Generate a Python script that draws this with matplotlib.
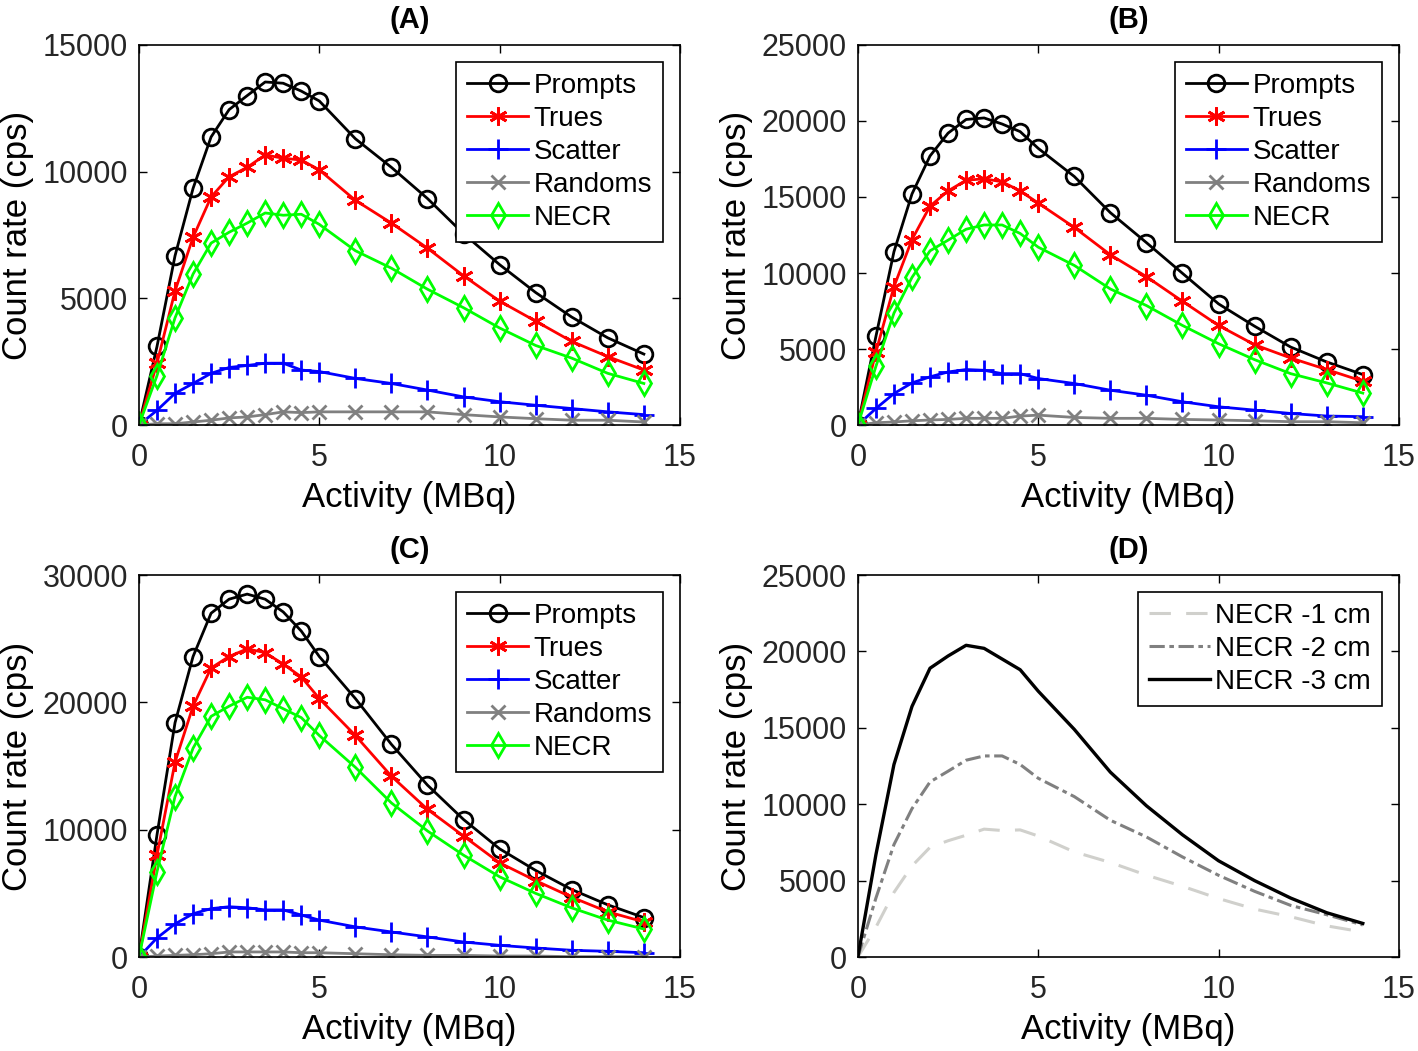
import numpy as np
import matplotlib
matplotlib.use("Agg")
import matplotlib.pyplot as plt

plt.rcParams['font.family'] = ['Liberation Sans', 'DejaVu Sans']

activity = [0, 0.5, 1, 1.5, 2, 2.5, 3, 3.5, 4, 4.5, 5, 6, 7, 8, 9, 10, 11, 12, 13, 14]

# panel A
prompts_a = [0, 3100, 6680, 9340, 11370, 12450, 13000, 13540, 13490, 13180, 12790, 11300, 10170, 8940, 7550, 6330, 5230, 4260, 3440, 2800]
trues_a = [0, 2440, 5290, 7410, 9000, 9800, 10170, 10660, 10530, 10460, 10070, 8870, 7970, 6980, 5890, 4890, 4100, 3300, 2700, 2170]
scatter_a = [0, 580, 1250, 1640, 2040, 2270, 2350, 2440, 2440, 2170, 2110, 1840, 1640, 1380, 1110, 920, 780, 650, 520, 410]
randoms_a = [0, 50, 50, 120, 190, 280, 320, 410, 520, 490, 520, 520, 520, 520, 410, 320, 250, 190, 190, 120]
necr_a = [0, 1950, 4230, 5960, 7180, 7610, 7970, 8370, 8280, 8320, 7920, 6880, 6190, 5360, 4630, 3830, 3140, 2640, 2040, 1640]

# panel B
prompts_b = [0, 5830, 11400, 15200, 17700, 19200, 20100, 20200, 19800, 19300, 18200, 16350, 13970, 12000, 9980, 7970, 6500, 5130, 4150, 3320]
trues_b = [0, 4800, 9100, 12200, 14400, 15400, 16100, 16200, 16000, 15400, 14600, 13000, 11200, 9760, 8140, 6550, 5280, 4410, 3650, 2880]
scatter_b = [0, 1090, 2070, 2770, 3170, 3490, 3650, 3600, 3380, 3380, 3060, 2730, 2290, 1960, 1530, 1200, 980, 760, 590, 550]
randoms_b = [0, 150, 200, 280, 330, 370, 440, 440, 440, 590, 650, 500, 440, 440, 370, 330, 280, 220, 220, 150]
necr_b = [0, 3860, 7360, 9710, 11460, 12160, 12880, 13160, 13160, 12600, 11700, 10500, 8950, 7860, 6550, 5350, 4300, 3380, 2770, 2100]

# panel C
prompts_c = [0, 9600, 18400, 23600, 27000, 28100, 28500, 28100, 27100, 25600, 23600, 20300, 16700, 13500, 10800, 8500, 6800, 5300, 4100, 3100]
trues_c = [0, 8000, 15300, 19700, 22700, 23600, 24200, 23900, 23000, 22000, 20300, 17400, 14200, 11600, 9500, 7400, 6000, 4700, 3550, 2760]
scatter_c = [0, 1500, 2600, 3400, 3800, 3950, 3870, 3700, 3700, 3300, 2900, 2370, 1970, 1580, 1180, 920, 710, 530, 450, 340]
randoms_c = [0, 80, 130, 180, 260, 400, 400, 400, 400, 340, 340, 260, 180, 130, 130, 80, 80, 30, 30, 30]
necr_c = [0, 6700, 12600, 16400, 18900, 19700, 20400, 20200, 19500, 18800, 17400, 14900, 12100, 9900, 8000, 6300, 5000, 3860, 2900, 2200]

series_names = ['Prompts', 'Trues', 'Scatter', 'Randoms', 'NECR']
panel_titles = ['(A)', '(B)', '(C)', '(D)']
d_labels = ['NECR -1 cm', 'NECR -2 cm', 'NECR -3 cm']

styles = [
    dict(color='black', marker='o', ms=12, mfc='none', mew=2),
    dict(color='red', marker=(6, 2, 0), ms=13, mfc='none', mew=2),
    dict(color='blue', marker='+', ms=14, mfc='none', mew=2),
    dict(color='#808080', marker='x', ms=10, mfc='none', mew=2),
    dict(color='#00ff00', marker='d', ms=12, mfc='none', mew=2),
]

fig = plt.figure(figsize=(14.18, 10.51), dpi=100)
positions = [
    [0.098, 0.5956, 0.3815, 0.3616],
    [0.605, 0.5956, 0.3815, 0.3616],
    [0.098, 0.0894, 0.3815, 0.3635],
    [0.605, 0.0894, 0.3815, 0.3635],
]
axes = [fig.add_axes(p) for p in positions]

panel_data = [
    [prompts_a, trues_a, scatter_a, randoms_a, necr_a],
    [prompts_b, trues_b, scatter_b, randoms_b, necr_b],
    [prompts_c, trues_c, scatter_c, randoms_c, necr_c],
]
ylims = [15000, 25000, 30000, 25000]
ysteps = [5000, 5000, 10000, 5000]

leg_kw = dict(loc='upper right', fontsize=20, frameon=True, fancybox=False,
              edgecolor='black', framealpha=1, handletextpad=0.2, handlelength=2.2,
              borderpad=0.4, labelspacing=0.25, borderaxespad=0.6)

for i in range(3):
    ax = axes[i]
    for name, vals, st in zip(series_names, panel_data[i], styles):
        ax.plot(activity, vals, lw=2, label=name, **st)
    leg = ax.legend(**leg_kw)
    leg.get_frame().set_linewidth(1.2)

# panel D: NECR curves compared
ax = axes[3]
ax.plot(activity, necr_a, color='#d0d0cc', lw=2.2, ls=(0, (7, 5)), label=d_labels[0])
ax.plot(activity, necr_b, color='#808080', lw=2.2, ls=(0, (5, 1.5, 1.5, 1.5)), label=d_labels[1])
ax.plot(activity, necr_c, color='black', lw=2.4, ls='-', label=d_labels[2])
leg = ax.legend(**leg_kw)
leg.get_frame().set_linewidth(1.2)

for i, ax in enumerate(axes):
    ax.set_xlim(0, 15)
    ax.set_ylim(0, ylims[i])
    ax.set_xticks([0, 5, 10, 15])
    ax.set_yticks(np.arange(0, ylims[i] + 1, ysteps[i]))
    ax.tick_params(direction='in', top=True, right=True, labelsize=22, length=6, width=1)
    ax.tick_params(axis='x', pad=13)
    ax.tick_params(axis='y', pad=8)
    ax.set_xlabel('Activity (MBq)', fontsize=25, labelpad=6)
    ax.set_ylabel('Count rate (cps)', fontsize=25, labelpad=6)
    ax.set_title(panel_titles[i], fontsize=21, fontweight='bold', pad=12)
    for s in ax.spines.values():
        s.set_linewidth(1.2)
    for lab in ax.get_xticklabels() + ax.get_yticklabels():
        lab.set_color('#262626')

fig.savefig('out.png', dpi=100)
